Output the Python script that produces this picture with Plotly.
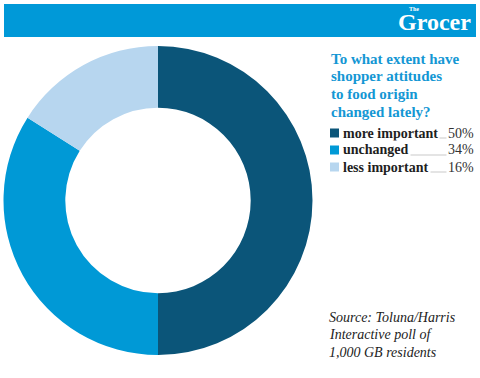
import plotly.graph_objects as go

# ---- data ----
categories = ["more important", "unchanged", "less important"]
values = [50, 34, 16]
value_labels = ["50%", "34%", "16%"]
colors = ["#0b5579", "#0099d6", "#b7d6ef"]
title_lines = ["To what extent have", "shopper attitudes", "to food origin", "changed lately?"]
source_lines = ["Source: Toluna/Harris", "Interactive poll of", "1,000 GB residents"]

W, H = 480, 378
def px(x): return x / W
def py(y): return 1 - y / H

fig = go.Figure()
fig.add_trace(go.Pie(
    labels=categories, values=values, hole=0.6,
    marker=dict(colors=colors, line=dict(width=0)),
    sort=False, direction="clockwise", rotation=0,
    textinfo="none", hoverinfo="label+percent", showlegend=False,
    domain=dict(x=[px(3), px(313)], y=[py(355), py(46)]),
))

shapes = []
annotations = []
# header bar
shapes.append(dict(type="rect", xref="paper", yref="paper",
                   x0=px(4), x1=px(476), y0=py(37), y1=py(4),
                   fillcolor="#0099d8", line=dict(width=0), layer="above"))
annotations.append(dict(xref="paper", yref="paper", x=px(473), y=py(22),
                        xanchor="right", yanchor="middle", showarrow=False,
                        text="<b>Grocer</b>",
                        font=dict(family="Liberation Serif", size=24, color="white")))
annotations.append(dict(xref="paper", yref="paper", x=px(414), y=py(9),
                        xanchor="center", yanchor="middle", showarrow=False,
                        text="<b>The</b>",
                        font=dict(family="Liberation Serif", size=6, color="white")))

# title
for i, line in enumerate(title_lines):
    annotations.append(dict(xref="paper", yref="paper", x=px(329), y=py(59 + i * 17.5),
                            xanchor="left", yanchor="middle", showarrow=False,
                            text="<b>" + line + "</b>",
                            font=dict(family="Liberation Serif", size=15, color="#1497d4")))

# legend
for i, (cat, lab, col) in enumerate(zip(categories, value_labels, colors)):
    yc = 133 + i * 17
    shapes.append(dict(type="rect", xref="paper", yref="paper",
                       x0=px(330), x1=px(339), y0=py(yc + 4.5), y1=py(yc - 4.5),
                       fillcolor=col, line=dict(width=0), layer="above"))
    shapes.append(dict(type="line", xref="paper", yref="paper",
                       x0=px(360), x1=px(447), y0=py(yc + 5), y1=py(yc + 5),
                       line=dict(color="#c9c9c9", width=1), layer="above"))
    annotations.append(dict(xref="paper", yref="paper", x=px(341), y=py(yc),
                            xanchor="left", yanchor="middle", showarrow=False,
                            text="<b>" + cat + "</b>", bgcolor="white", borderpad=1,
                            font=dict(family="Liberation Serif", size=14, color="#1e1e1e")))
    annotations.append(dict(xref="paper", yref="paper", x=px(476), y=py(yc),
                            xanchor="right", yanchor="middle", showarrow=False,
                            text=lab, bgcolor="white", borderpad=1,
                            font=dict(family="Liberation Serif", size=14, color="#333333")))

# source
for i, line in enumerate(source_lines):
    annotations.append(dict(xref="paper", yref="paper", x=px(327), y=py(317 + i * 17.5),
                            xanchor="left", yanchor="middle", showarrow=False,
                            text="<i>" + line + "</i>",
                            font=dict(family="Liberation Serif", size=14, color="#222222")))

fig.update_layout(width=W, height=H, margin=dict(l=0, r=0, t=0, b=0),
                  paper_bgcolor="white", plot_bgcolor="white",
                  shapes=shapes, annotations=annotations)
fig.write_html("out.html", config={"displayModeBar": False},
               post_script="document.body.style.margin='0';document.body.style.overflow='hidden';")
